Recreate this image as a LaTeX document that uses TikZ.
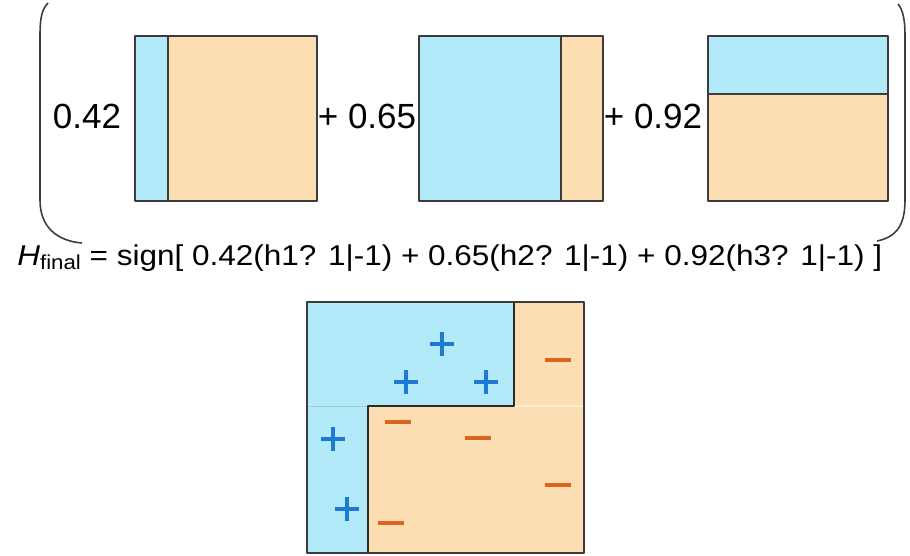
\documentclass[tikz,border=0pt]{standalone}
\usepackage{fontspec}
\setmainfont{Liberation Sans}
\usetikzlibrary{positioning}
\definecolor{posblue}{RGB}{178,234,250}
\definecolor{negorange}{RGB}{252,222,178}
\definecolor{plusblue}{RGB}{28,122,212}
\definecolor{minusorange}{RGB}{222,100,30}
\definecolor{edgegray}{RGB}{60,60,60}
\newcommand{\plusmark}[1]{%
  \draw[plus] (#1) ++(-12,0) -- ++(24,0);
  \draw[plus] (#1) ++(0,-12) -- ++(0,24);
}
\newcommand{\minusmark}[1]{%
  \draw[minus] (#1) ++(-13,0) -- ++(26,0);
}

\begin{document}
\begin{tikzpicture}[x=0.02cm, y=-0.02cm, line join=round]
\tikzset{panel/.style={draw=edgegray, line width=0.8pt}, split/.style={edgegray, line width=0.8pt}, bound/.style={edgegray!70!black, line width=1.6pt}, paren/.style={edgegray, line width=0.9pt}, plus/.style={plusblue, line width=1.8pt}, minus/.style={minusorange, line width=1.8pt}, coef/.style={font=\fontsize{19.9}{24}\selectfont, anchor=base}, eqn/.style={font=\fontsize{16.3}{19}\selectfont, anchor=base west, inner sep=0pt}}
\useasboundingbox (0,0) rectangle (910,555);

% weak classifier h1
\fill[posblue] (135,36) rectangle (168,201);
\fill[negorange] (168,36) rectangle (317,201);
\draw[split] (168,36) -- (168,201);
\draw[panel] (135,36) rectangle (317,201);

% weak classifier h2
\fill[posblue] (419,36) rectangle (561,201);
\fill[negorange] (561,36) rectangle (603,201);
\draw[split] (561,36) -- (561,201);
\draw[panel] (419,36) rectangle (603,201);

% weak classifier h3
\fill[posblue] (708,36) rectangle (888,94);
\fill[negorange] (708,94) rectangle (888,201);
\draw[split] (708,94) -- (888,94);
\draw[panel] (708,36) rectangle (888,201);

% weights
\node[coef] (w1) at (87,128) {0.42};
\node[coef] (w2) at (367,128) {+ 0.65};
\node[coef] (w3) at (653,128) {+ 0.92};

% brackets
\draw[paren] (48,3) .. controls (42,9) and (40,18) .. (40,35) -- (40,200) .. controls (40,228) and (58,241) .. (82,243);
\draw[paren] (898,4) .. controls (903,10) and (905,20) .. (905,35) -- (905,200) .. controls (905,226) and (896,237) .. (877,241);

% combined rule
\node[eqn] (hfinal) at (17,265) {\scalebox{1.1}[1]{\textit{H}\raisebox{-2.8pt}{\fontsize{11.5}{13}\selectfont final} = sign[ 0.42(h1? 1|-1) + 0.65(h2? 1|-1) + 0.92(h3? 1|-1) ]}};

% final classifier
\fill[posblue] (307,302) rectangle (584,553);
\fill[negorange] (514,302) -- (584,302) -- (584,553) -- (368,553) -- (368,406) -- (514,406) -- cycle;
\draw[posblue!75!black!70, line width=0.4pt] (307,406) -- (368,406);
\draw[white!50!negorange, line width=0.6pt] (514,406) -- (584,406);
\draw[bound] (514,302) -- (514,406) -- (368,406) -- (368,553);
\draw[panel, line width=1.2pt] (307,302) rectangle (584,553);

% samples
\foreach \x/\y in {442/344, 406/382, 486/382, 333/439, 347/509}
  {\plusmark{\x,\y}}
\foreach \x/\y in {558/360, 398/422, 478/438, 558/485, 391/523}
  {\minusmark{\x,\y}}
\end{tikzpicture}
\end{document}
